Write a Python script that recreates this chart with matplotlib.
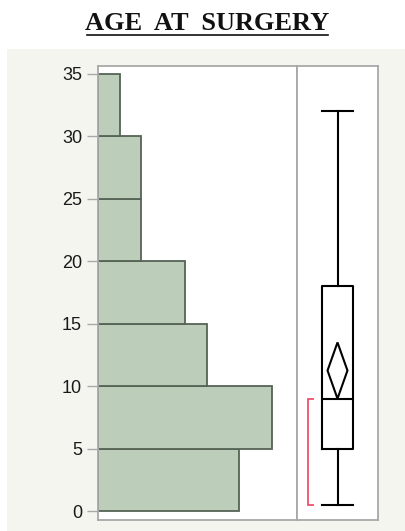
import matplotlib.pyplot as plt
from matplotlib.patches import Polygon

# age bins (years) and counts
bin_edges = [0, 5, 10, 15, 20, 25, 30, 35]
counts = [6.5, 8, 5, 4, 2, 2, 1]

# box plot summary
whisker_lo = 0.5
q1 = 5
median = 9
q3 = 18
whisker_hi = 32
mean = 11.25
ci_lo, ci_hi = 9.0, 13.5
short_lo, short_hi = 0.5, 9.0

yticks = [0, 5, 10, 15, 20, 25, 30, 35]

W, H = 406, 531
fig = plt.figure(figsize=(W / 100, H / 100), dpi=100)
fig.patch.set_facecolor('white')

# light panel behind the plots
panel = fig.add_axes([7 / W, 0, 1 - 7 / W, 1 - 49 / H])
panel.set_facecolor('#f5f5f0')
panel.set_xticks([]); panel.set_yticks([])
for s in panel.spines.values():
    s.set_visible(False)
panel.set_zorder(0)

ylo, yhi = -0.72, 35.64
bot, top = 1 - 520 / H, 1 - 66 / H
ax = fig.add_axes([98 / W, bot, (297 - 98) / W, top - bot])
bx = fig.add_axes([297 / W, bot, (378 - 297) / W, top - bot])

spine_col = '#a8a8a8'
for a in (ax, bx):
    a.set_facecolor('white')
    a.set_ylim(ylo, yhi)
    for s in a.spines.values():
        s.set_color(spine_col)
        s.set_linewidth(1.3)

# histogram
heights = [bin_edges[i + 1] - bin_edges[i] for i in range(len(counts))]
ax.barh(bin_edges[:-1], counts, height=heights, align='edge',
        color='#bccdba', edgecolor='#566356', linewidth=1.3)
ax.set_xlim(0, 9.17)
ax.set_xticks([])
ax.set_yticks(yticks)
ax.tick_params(axis='y', length=8, width=1, color=spine_col, pad=3.5,
               labelsize=13)
for lab in ax.get_yticklabels():
    lab.set_family('Liberation Sans')
    lab.set_color('#1a1a1a')

# outlier box plot
stats = [dict(med=median, q1=q1, q3=q3, whislo=whisker_lo, whishi=whisker_hi,
              fliers=[], label='')]
lw = 1.5
bx.bxp(stats, positions=[0.5], widths=0.39, showfliers=False,
       boxprops=dict(color='black', linewidth=lw),
       whiskerprops=dict(color='black', linewidth=lw),
       capprops=dict(color='black', linewidth=lw),
       medianprops=dict(color='black', linewidth=lw))
# caps as wide as the box
for line in bx.lines:
    xd = line.get_xdata()
    if len(xd) == 2 and xd[0] != xd[1] and line.get_ydata()[0] in (whisker_lo, whisker_hi):
        line.set_xdata([0.5 - 0.195, 0.5 + 0.195])

# mean diamond with confidence interval
dw = 0.123
diamond = Polygon([[0.5, ci_lo], [0.5 + dw, mean], [0.5, ci_hi], [0.5 - dw, mean]],
                  closed=True, fill=False, edgecolor='black', linewidth=lw)
bx.add_patch(diamond)

# shortest half bracket
red = '#f0506e'
bx.plot([0.2, 0.136, 0.136, 0.2], [short_hi, short_hi, short_lo, short_lo],
        color=red, linewidth=1.3, solid_joinstyle='miter')

bx.set_xlim(0, 1)
bx.set_xticks([]); bx.set_yticks([])

fig.text(207.5 / W, 1 - 24 / H, 'AGE  AT  SURGERY', ha='center', va='center',
         family='Liberation Serif', weight='bold', fontsize=19, color='#111111')
fig.add_artist(plt.Line2D([87 / W, 328 / W], [1 - 35 / H, 1 - 35 / H],
                          color='#111111', linewidth=1.2))

fig.savefig('out.png', dpi=100)
